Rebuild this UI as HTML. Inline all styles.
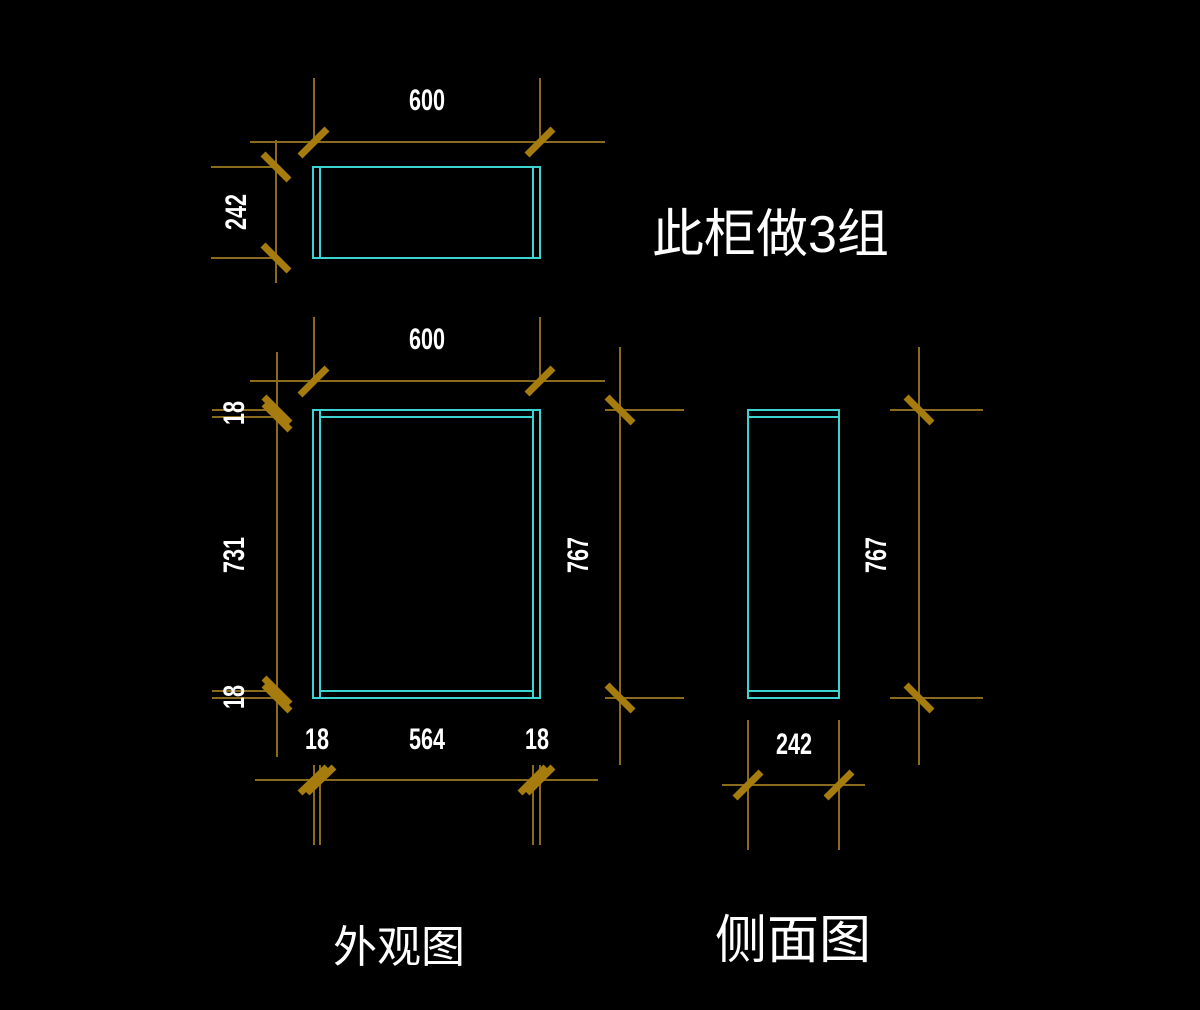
<!DOCTYPE html>
<html><head><meta charset="utf-8"><style>
html,body{margin:0;padding:0;background:#000;width:1200px;height:1010px;overflow:hidden}
svg{display:block}
.d{stroke:#8a6b1c;stroke-width:2;fill:none}
.t{stroke:#a67c0e;stroke-width:7;stroke-linecap:butt}
.c{stroke:#3cd3d3;stroke-width:2;fill:none}
.n{fill:#fff;font-family:"Liberation Sans",sans-serif;font-size:30px;font-weight:bold}
.z{fill:#fff;font-family:"Liberation Sans","Noto Sans CJK SC",sans-serif}
</style></head><body>
<svg width="1200" height="1010" viewBox="0 0 1200 1010">
<rect class="c" x="313" y="167" width="227" height="91"/>
<line class="c" x1="320" y1="167" x2="320" y2="258"/><line class="c" x1="533" y1="167" x2="533" y2="258"/>
<line class="d" x1="250" y1="142" x2="605" y2="142"/>
<line class="d" x1="314" y1="78" x2="314" y2="142"/><line class="d" x1="540" y1="78" x2="540" y2="142"/>
<line class="t" x1="300" y1="156" x2="327" y2="129"/><line class="t" x1="527" y1="155" x2="553" y2="129"/>
<line class="d" x1="276" y1="140" x2="276" y2="283"/>
<line class="d" x1="211" y1="167" x2="276" y2="167"/><line class="d" x1="211" y1="258" x2="276" y2="258"/>
<line class="t" x1="263" y1="154" x2="289" y2="180"/><line class="t" x1="263" y1="245" x2="289" y2="271"/>
<text class="n" transform="translate(427,110) scale(0.72,1)" text-anchor="middle">600</text>
<text class="n" transform="translate(246,212) rotate(-90) scale(0.72,1)" text-anchor="middle">242</text>
<text class="z" x="652" y="252" font-size="52">此柜做3组</text>
<rect class="c" x="313" y="410" width="227" height="288"/>
<line class="c" x1="320" y1="417" x2="533" y2="417"/><line class="c" x1="320" y1="691" x2="533" y2="691"/>
<line class="c" x1="320" y1="410" x2="320" y2="698"/><line class="c" x1="533" y1="410" x2="533" y2="698"/>
<line class="d" x1="250" y1="381" x2="605" y2="381"/>
<line class="d" x1="314" y1="317" x2="314" y2="381"/><line class="d" x1="540" y1="317" x2="540" y2="381"/>
<line class="t" x1="300" y1="395" x2="327" y2="368"/><line class="t" x1="527" y1="394" x2="553" y2="368"/>
<text class="n" transform="translate(427,349) scale(0.72,1)" text-anchor="middle">600</text>
<line class="d" x1="277" y1="352" x2="277" y2="757"/>
<line class="d" x1="212" y1="410" x2="277" y2="410"/><line class="d" x1="212" y1="417" x2="277" y2="417"/>
<line class="d" x1="212" y1="691" x2="277" y2="691"/><line class="d" x1="212" y1="698" x2="277" y2="698"/>
<line class="t" x1="264" y1="397" x2="290" y2="423"/><line class="t" x1="264" y1="404" x2="290" y2="430"/>
<line class="t" x1="264" y1="678" x2="290" y2="704"/><line class="t" x1="264" y1="685" x2="290" y2="711"/>
<text class="n" transform="translate(244,413) rotate(-90) scale(0.72,1)" text-anchor="middle">18</text>
<text class="n" transform="translate(244,555) rotate(-90) scale(0.72,1)" text-anchor="middle">731</text>
<text class="n" transform="translate(244,697) rotate(-90) scale(0.72,1)" text-anchor="middle">18</text>
<line class="d" x1="620" y1="347" x2="620" y2="765"/>
<line class="d" x1="605" y1="410" x2="684" y2="410"/><line class="d" x1="605" y1="698" x2="684" y2="698"/>
<line class="t" x1="607" y1="397" x2="633" y2="423"/><line class="t" x1="607" y1="685" x2="633" y2="711"/>
<text class="n" transform="translate(588,555) rotate(-90) scale(0.72,1)" text-anchor="middle">767</text>
<line class="d" x1="255" y1="780" x2="598" y2="780"/>
<line class="d" x1="314" y1="765" x2="314" y2="845"/><line class="d" x1="320" y1="765" x2="320" y2="845"/>
<line class="d" x1="533" y1="765" x2="533" y2="845"/><line class="d" x1="540" y1="765" x2="540" y2="845"/>
<line class="t" x1="300" y1="793" x2="327" y2="767"/><line class="t" x1="307" y1="793" x2="334" y2="767"/>
<line class="t" x1="520" y1="793" x2="546" y2="767"/><line class="t" x1="527" y1="793" x2="553" y2="767"/>
<text class="n" transform="translate(317,749) scale(0.72,1)" text-anchor="middle">18</text>
<text class="n" transform="translate(427,749) scale(0.72,1)" text-anchor="middle">564</text>
<text class="n" transform="translate(537,749) scale(0.72,1)" text-anchor="middle">18</text>
<text class="z" x="333" y="962" font-size="44">外观图</text>
<rect class="c" x="748" y="410" width="91" height="288"/>
<line class="c" x1="748" y1="417" x2="839" y2="417"/><line class="c" x1="748" y1="691" x2="839" y2="691"/>
<line class="d" x1="919" y1="347" x2="919" y2="765"/>
<line class="d" x1="890" y1="410" x2="983" y2="410"/><line class="d" x1="890" y1="698" x2="983" y2="698"/>
<line class="t" x1="906" y1="397" x2="932" y2="423"/><line class="t" x1="906" y1="685" x2="932" y2="711"/>
<text class="n" transform="translate(886,555) rotate(-90) scale(0.72,1)" text-anchor="middle">767</text>
<line class="d" x1="722" y1="785" x2="865" y2="785"/>
<line class="d" x1="748" y1="720" x2="748" y2="850"/><line class="d" x1="839" y1="720" x2="839" y2="850"/>
<line class="t" x1="735" y1="798" x2="761" y2="772"/><line class="t" x1="826" y1="798" x2="852" y2="772"/>
<text class="n" transform="translate(794,754) scale(0.72,1)" text-anchor="middle">242</text>
<text class="z" x="715" y="958" font-size="52">侧面图</text>
</svg>
</body></html>
